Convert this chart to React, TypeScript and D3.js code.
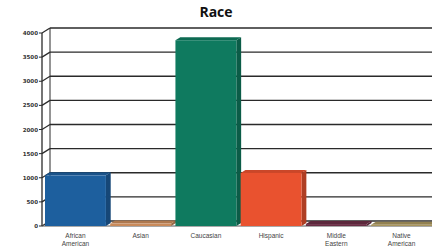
import React from "react";
import * as d3 from "d3";

const categories = ["African American", "Asian", "Caucasian", "Hispanic", "Middle Eastern", "Native American"];
const labelLines = [["African", "American"], ["Asian"], ["Caucasian"], ["Hispanic"], ["Middle", "Eastern"], ["Native", "American"]];
const counts = [1050, 50, 3850, 1100, 40, 25];
const colors = ["#1d5f9e", "#c98a5a", "#0f7a5f", "#e9522f", "#6a2e45", "#a8955c"];
const yTicks = [0, 500, 1000, 1500, 2000, 2500, 3000, 3500, 4000];

const W = 432, H = 252;
const left = 42, right = 432, top = 33, bottom = 226;
const dx = 8, dy = 5; // depth offset

const App = () => {
  const x = d3.scaleBand().domain(categories).range([45, 432]).paddingInner(0.066).paddingOuter(0);
  const y = d3.scaleLinear().domain([0, 4000]).range([bottom, top]);
  const shade = (c: string, k: number) => d3.color(c)!.darker(k).formatHex();

  return (
    <svg width={W} height={H} style={{ position: "absolute", left: 0, top: 0, background: "#fff" }}>
      <text x={216} y={17} textAnchor="middle" fontFamily="Open Sans, sans-serif" fontWeight="bold" fontSize={14} fill="#111">Race</text>
      {/* back wall gridlines */}
      {yTicks.map((t) => (
        <g key={t}>
          <line x1={left + dx} x2={right} y1={y(t) - dy} y2={y(t) - dy} stroke="#2a2a2a" strokeWidth={1.3} />
          <line x1={left} x2={left + dx} y1={y(t)} y2={y(t) - dy} stroke="#2a2a2a" strokeWidth={1.2} />
          <line x1={left - 3} x2={left} y1={y(t)} y2={y(t)} stroke="#2a2a2a" strokeWidth={1} />
          <text x={left - 4} y={y(t) + 2} textAnchor="end" fontFamily="DejaVu Sans, sans-serif" fontWeight="bold" fontSize={5.5} fill="#333">{t}</text>
        </g>
      ))}
      <line x1={left} x2={left} y1={top} y2={bottom} stroke="#2a2a2a" strokeWidth={1.3} />
      <line x1={left + dx} x2={left + dx} y1={top - dy} y2={bottom - dy} stroke="#2a2a2a" strokeWidth={1} />
      <line x1={left} x2={right} y1={bottom} y2={bottom} stroke="#555" strokeWidth={1} />
      {/* bars */}
      {categories.map((c, i) => {
        const x0 = x(c)!;
        const w = x.bandwidth();
        const yt = y(counts[i]);
        const col = colors[i];
        return (
          <g key={c}>
            <polygon points={`${x0 + w},${yt} ${x0 + w + dx * 0.6},${yt - dy * 0.6} ${x0 + w + dx * 0.6},${bottom - dy * 0.6} ${x0 + w},${bottom}`} fill={shade(col, 0.8)} />
            <polygon points={`${x0},${yt} ${x0 + dx * 0.6},${yt - dy * 0.6} ${x0 + w + dx * 0.6},${yt - dy * 0.6} ${x0 + w},${yt}`} fill={shade(col, 0.4)} />
            <rect x={x0} y={yt} width={w} height={bottom - yt} fill={col} />
          </g>
        );
      })}
      {/* category labels */}
      {categories.map((c, i) => (
        <text key={c} x={x(c)! + x.bandwidth() / 2} y={238} textAnchor="middle" fontFamily="Liberation Sans, Arial, sans-serif" fontSize={6.5} fill="#444">
          {labelLines[i].map((l, j) => (
            <tspan key={j} x={x(c)! + x.bandwidth() / 2} dy={j === 0 ? 0 : 7.5}>{l}</tspan>
          ))}
        </text>
      ))}
    </svg>
  );
};

export default App;
